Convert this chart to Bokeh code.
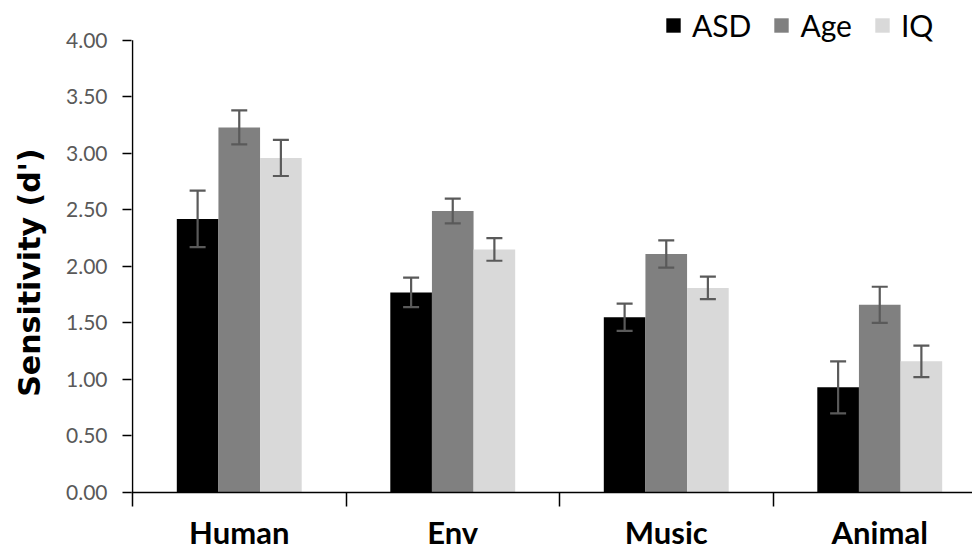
from bokeh.plotting import figure
from bokeh.models import (ColumnDataSource, Range1d, FixedTicker, Whisker, TeeHead,
                          Legend, LegendItem)
from bokeh.embed import file_html
from bokeh.resources import INLINE

categories = ["Human", "Env", "Music", "Animal"]
series = ["ASD", "Age", "IQ"]
asd = [2.42, 1.77, 1.55, 0.93]
asd_err = [0.25, 0.13, 0.12, 0.23]
age = [3.23, 2.49, 2.11, 1.66]
age_err = [0.15, 0.11, 0.12, 0.16]
iq = [2.96, 2.15, 1.81, 1.16]
iq_err = [0.16, 0.10, 0.10, 0.14]
y_ticks = [0.0, 0.5, 1.0, 1.5, 2.0, 2.5, 3.0, 3.5, 4.0]
y_max = 4.0

colors = ["#000000", "#808080", "#d9d9d9"]
offsets = [-0.195, 0.0, 0.195]
values = [asd, age, iq]
errors = [asd_err, age_err, iq_err]

FONT = "Lato"
W, H = 972, 553
AXIS_X = 132          # page x of the y axis
AXIS_Y = 494          # page y of the x axis
CAT_PX = 213.5        # width of one category in px
UNIT_PX = 113.5       # px per 1.0 of sensitivity

p = figure(width=W, height=H, output_backend="svg", toolbar_location=None,
           x_range=Range1d(-1 / CAT_PX, (W - AXIS_X) / CAT_PX),
           y_range=Range1d(0, AXIS_Y / UNIT_PX),
           min_border_left=AXIS_X - 1, min_border_right=0, min_border_top=0,
           min_border_bottom=H - AXIS_Y)
p.outline_line_color = None
p.xgrid.visible = False
p.ygrid.visible = False
p.background_fill_color = "white"
p.border_fill_color = "white"

renderers = []
for s, col, off, vals, errs in zip(series, colors, offsets, values, errors):
    xs = [i + 0.5 + off for i in range(len(categories))]
    src = ColumnDataSource(dict(x=xs, top=vals,
                                upper=[v + e for v, e in zip(vals, errs)],
                                lower=[v - e for v, e in zip(vals, errs)]))
    r = p.vbar(x="x", top="top", bottom=0, width=0.195, source=src,
               fill_color=col, line_color=None)
    renderers.append(r)
    w = Whisker(base="x", upper="upper", lower="lower", source=src, level="overlay",
                line_color="#5a5a5a", line_width=2.2,
                upper_head=TeeHead(size=16, line_color="#5a5a5a", line_width=2.2),
                lower_head=TeeHead(size=16, line_color="#5a5a5a", line_width=2.2))
    p.add_layout(w)

# y axis line only up to 4.00
p.segment(x0=[0], y0=[0], x1=[0], y1=[y_max], line_color="black", line_width=1.5)

yax = p.yaxis[0]
yax.ticker = FixedTicker(ticks=y_ticks)
yax.major_label_overrides = {t: f"{t:.2f}" for t in y_ticks}
yax.axis_line_color = None
yax.major_tick_out = 9
yax.major_tick_in = 0
yax.major_tick_line_width = 1.5
yax.major_tick_line_color = "black"
yax.minor_tick_out = 0
yax.minor_tick_in = 0
yax.major_label_text_font = FONT
yax.major_label_text_font_size = "21px"
yax.major_label_text_color = "#595959"
yax.major_label_standoff = 15
yax.axis_label = "Sensitivity (d')" + "\u00a0" * 5
yax.axis_label_text_font = "DejaVu Sans"
yax.axis_label_text_font_style = "bold"
yax.axis_label_text_font_size = "30px"
yax.axis_label_text_color = "black"
yax.axis_label_standoff = 16

# x axis: category names as labels, separators as minor ticks
xax = p.xaxis[0]
xax.ticker = FixedTicker(ticks=[i + 0.5 for i in range(len(categories))],
                         minor_ticks=list(range(len(categories))))
xax.major_label_overrides = {i + 0.5: c for i, c in enumerate(categories)}
xax.axis_line_color = "black"
xax.axis_line_width = 1.5
xax.major_tick_out = 0
xax.major_tick_in = 0
xax.minor_tick_out = 14
xax.minor_tick_in = 0
xax.minor_tick_line_color = "black"
xax.minor_tick_line_width = 1.5
xax.major_label_text_font = FONT
xax.major_label_text_font_style = "bold"
xax.major_label_text_font_size = "31px"
xax.major_label_text_color = "black"
xax.major_label_standoff = 6

legend = Legend(items=[LegendItem(label=s, renderers=[r]) for s, r in zip(series, renderers)],
                orientation="horizontal", location=(533, 449),
                glyph_width=18, glyph_height=18, label_standoff=10, spacing=21,
                padding=0, margin=0, border_line_color=None, background_fill_alpha=0,
                label_text_font=FONT, label_text_font_size="30px", label_text_color="black")
p.add_layout(legend, "center")

open("out.html", "w").write(file_html(p, INLINE))
